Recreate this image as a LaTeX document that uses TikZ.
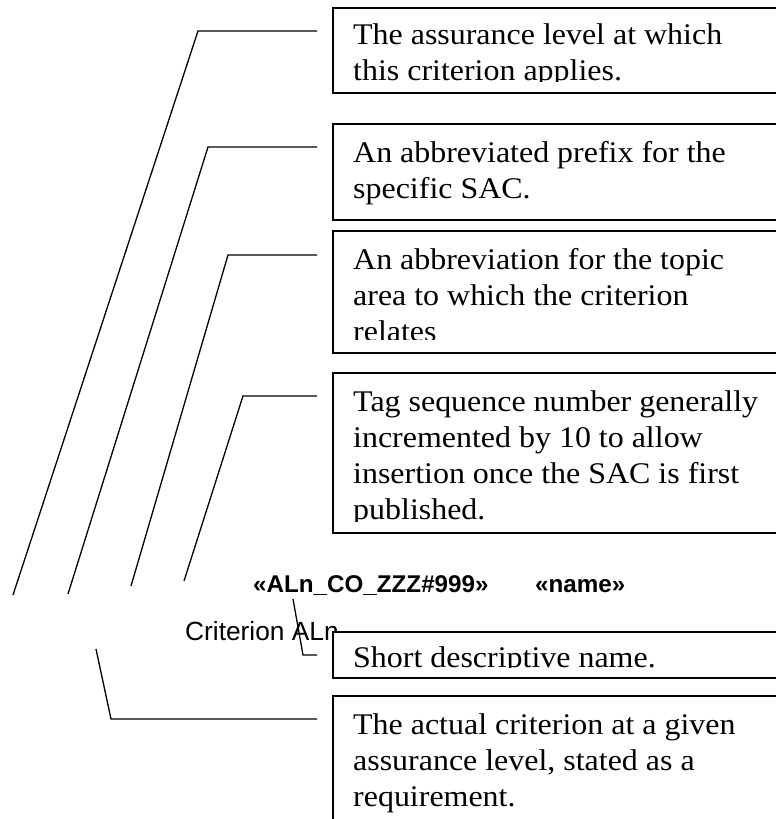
\documentclass[tikz,border=0pt]{standalone}
\usepackage{fontspec}
\setmainfont{Liberation Serif}
\newfontfamily\notefont[FakeStretch=1.065]{Liberation Serif}
\newfontfamily\tagfont{Liberation Sans}
\usetikzlibrary{positioning}

\begin{document}
\begin{tikzpicture}[x=1pt,y=1pt,
		note/.style={draw,fill=white,line width=1.6pt,inner sep=0pt,anchor=north west,minimum width=520pt},
		notetext/.style={anchor=base west,inner sep=0pt,font=\notefont\fontsize{30}{36}\selectfont},
		leader/.style={line width=1.3pt}]
		\useasboundingbox (0,0) rectangle (776,819);
		\clip (0,0) rectangle (776,819);
		
		% free ends and bends of the leaders
		\coordinate (lvl_end) at (13,224);   \coordinate (lvl_bend) at (198,788);
		\coordinate (pre_end) at (68,225);   \coordinate (pre_bend) at (208,672);
		\coordinate (top_end) at (131,233);  \coordinate (top_bend) at (228,564);
		\coordinate (seq_end) at (184,238);  \coordinate (seq_bend) at (243,423);
		\coordinate (nam_end) at (293,220);  \coordinate (nam_bend) at (303,164);
		\coordinate (crit_end) at (96,170);  \coordinate (crit_bend) at (111,100);
		
		% the tag line
		\node[anchor=base west,inner sep=0pt,font=\tagfont\bfseries\fontsize{24.2}{28}\selectfont] (tag) at (253,226) {«ALn\_CO\_ZZZ\#999»};
		\node[anchor=base west,inner sep=0pt,font=\tagfont\bfseries\fontsize{24.2}{28}\selectfont] (name) at (535,226) {«name»};
		\node[anchor=base west,inner sep=0pt,font=\tagfont\fontsize{26.3}{30}\selectfont] (crit) at (185,178) {Criterion ALn};
		
		% boxes
		\node[note,minimum height=85pt] (lvl) at (332,812) {};
		\node[note,minimum height=96pt] (pre) at (332,696) {};
		\node[note,minimum height=122pt] (top) at (332,589) {};
		\node[note,minimum height=160pt] (seq) at (332,447) {};
		\node[note,minimum height=46pt] (nam) at (332,188) {};
		\node[note,minimum height=200pt] (act) at (332,124) {};
		
		% box texts
		\begin{scope}
			\clip (lvl.north west) rectangle ([yshift=12pt]lvl.south east);
			\node[notetext] (lvl_t) at ([shift={(21,-38)}]lvl.north west) {\parbox[t]{420pt}{The assurance level at which\\this criterion applies.}};
		\end{scope}
		\begin{scope}
			\clip (pre.north west) rectangle ([yshift=11pt]pre.south east);
			\node[notetext] (pre_t) at ([shift={(21,-40)}]pre.north west) {\parbox[t]{420pt}{An abbreviated prefix for the\\specific SAC.}};
		\end{scope}
		\begin{scope}
			\clip (top.north west) rectangle ([yshift=14pt]top.south east);
			\node[notetext] (top_t) at ([shift={(21,-40)}]top.north west) {\parbox[t]{420pt}{An abbreviation for the topic\\area to which the criterion\\relates}};
		\end{scope}
		\begin{scope}
			\clip (seq.north west) rectangle ([yshift=12pt]seq.south east);
			\node[notetext] (seq_t) at ([shift={(21,-40)}]seq.north west) {\parbox[t]{420pt}{Tag sequence number generally\\incremented by 10 to allow\\insertion once the SAC is first\\published.}};
		\end{scope}
		\begin{scope}
			\clip (nam.north west) rectangle ([yshift=11pt]nam.south east);
			\node[notetext] (nam_t) at ([shift={(21,-37)}]nam.north west) {\parbox[t]{420pt}{Short descriptive name.}};
		\end{scope}
		\begin{scope}
			\clip (act.north west) rectangle ([yshift=11pt]act.south east);
			\node[notetext] (act_t) at ([shift={(21,-40)}]act.north west) {\parbox[t]{420pt}{The actual criterion at a given\\assurance level, stated as a\\requirement.}};
		\end{scope}
		
		% leaders
		\draw[leader] (lvl_end) -- (lvl_bend) -- ([shift={(-15,-24)}]lvl.north west);
		\draw[leader] (pre_end) -- (pre_bend) -- ([shift={(-15,-24)}]pre.north west);
		\draw[leader] (top_end) -- (top_bend) -- ([shift={(-15,-25)}]top.north west);
		\draw[leader] (seq_end) -- (seq_bend) -- ([shift={(-15,-24)}]seq.north west);
		\draw[leader] (nam_end) -- (nam_bend) -- ([shift={(-15,-24)}]nam.north west);
		\draw[leader] (crit_end) -- (crit_bend) -- ([shift={(-15,-24)}]act.north west);
\end{tikzpicture}
\end{document}
